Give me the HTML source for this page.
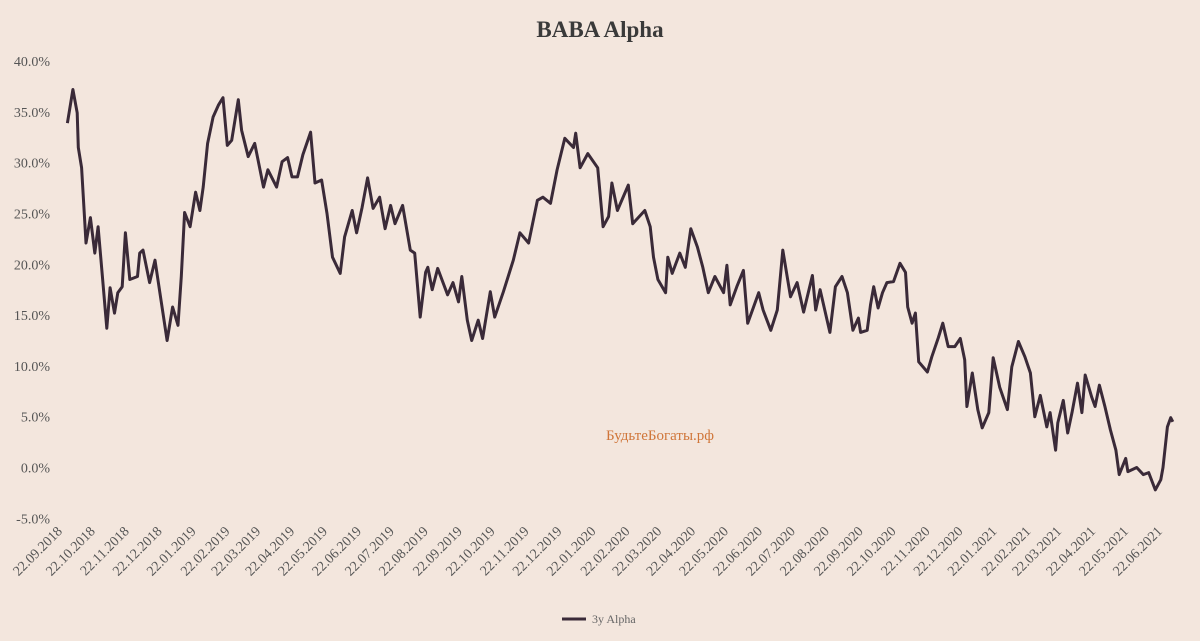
<!DOCTYPE html>
<html><head><meta charset="utf-8">
<style>
html,body{margin:0;padding:0;background:#f3e6dd;}
svg{display:block;font-family:"Liberation Serif",serif;}
</style></head>
<body>
<svg id="chart" width="1200" height="641" viewBox="0 0 1200 641">
<rect width="1200" height="641" fill="#f3e6dd"/>
<text x="600" y="37" text-anchor="middle" font-size="23" font-weight="bold" fill="#3a3a3a">BABA Alpha</text>
<text x="660" y="440" text-anchor="middle" font-size="15" fill="#d0763a">БудьтеБогаты.рф</text>
<g id="yaxis"></g>
<g id="xaxis"></g>
<g id="series"></g>
<g>
<line x1="562" y1="619" x2="586" y2="619" stroke="#3a2a38" stroke-width="3"/>
<text x="592" y="623" font-size="12" fill="#666">3y Alpha</text>
</g>
</svg>
<script>
const yTicks = [-5,0,5,10,15,20,25,30,35,40];
const xTickLabels = ["22.09.2018","22.10.2018","22.11.2018","22.12.2018","22.01.2019","22.02.2019","22.03.2019","22.04.2019","22.05.2019","22.06.2019","22.07.2019","22.08.2019","22.09.2019","22.10.2019","22.11.2019","22.12.2019","22.01.2020","22.02.2020","22.03.2020","22.04.2020","22.05.2020","22.06.2020","22.07.2020","22.08.2020","22.09.2020","22.10.2020","22.11.2020","22.12.2020","22.01.2021","22.02.2021","22.03.2021","22.04.2021","22.05.2021","22.06.2021"];
// days since 22.09.2018
const days = [4,9,13,14,17,21,25,29,32,36,40,43,47,50,54,57,61,68,70,73,79,84,89,95,100,105,108,111,116,121,125,128,132,137,142,146,150,154,160,163,169,175,183,187,195,200,205,209,214,219,226,230,236,241,246,253,257,264,268,273,278,283,289,294,299,303,
310,317,321,326,331,333,337,342,351,356,361,364,369,373,379,383,390,394,402,411,417,425,433,438,445,451,458,466,468,472,479,488,493,498,501,506,516,520,531,536,539,543,550,552,556,563,568,573,579,584,589,595,603,606,609,615,621,625,635,639,646,652,657,664,670,
676,684,687,691,700,705,711,716,721,726,728,734,737,740,744,748,752,758,764,769,771,775,778,781,789,793,799,803,808,814,819,823,825,830,835,839,845,849,855,862,866,872,878,883,887,892,898,901,906,908,913,917,921,926,930,933,939,942,946,951,956,961,964,970,972,980,986,991,997,1002,1004,1008,1011,1013];
const alpha3y = [33.9,37.2,34.9,31.5,29.5,22.1,24.6,21.1,23.7,18.8,13.7,17.7,15.2,17.2,17.8,23.1,18.5,18.8,21.1,21.4,18.2,20.4,16.8,12.5,15.8,14.0,18.8,25.1,23.7,27.1,25.3,27.6,31.9,34.5,35.7,36.4,31.7,32.2,36.2,33.2,30.6,31.9,27.6,29.3,27.6,30.1,30.5,28.6,28.6,30.8,33.0,28.0,28.3,25.0,20.7,19.1,22.7,25.3,23.1,25.6,28.5,25.5,26.6,23.5,25.8,24.0,
25.8,21.4,21.1,14.8,19.2,19.7,17.5,19.6,17.0,18.2,16.3,18.8,14.5,12.5,14.5,12.7,17.3,14.8,17.3,20.4,23.1,22.1,26.3,26.6,26.0,29.3,32.4,31.5,32.9,29.5,30.9,29.5,23.7,24.7,28.0,25.3,27.8,24.0,25.3,23.7,20.7,18.5,17.2,20.7,19.1,21.1,19.7,23.5,21.7,19.7,17.2,18.8,17.2,19.9,16.0,17.8,19.4,14.2,17.2,15.5,13.5,15.5,21.4,16.8,18.2,
15.3,18.9,15.5,17.5,13.3,17.8,18.8,17.2,13.5,14.7,13.3,13.5,16.0,17.8,15.7,17.2,18.2,18.3,20.1,19.2,15.8,14.2,15.2,10.4,9.4,10.9,12.8,14.2,11.9,11.9,12.7,10.6,6.0,9.3,5.7,3.9,5.4,10.8,7.9,5.7,9.9,12.4,10.9,9.3,5.0,7.1,4.0,5.4,1.7,4.4,6.6,3.4,5.4,8.3,5.4,9.1,6.9,6.0,8.1,6.0,3.7,1.7,-0.7,0.9,-0.4,0.0,-0.7,-0.5,-2.2,-1.2,0.0,4.0,4.9,4.5];

const NS="http://www.w3.org/2000/svg";
const xScale = d => 63 + d*1.0956;
const yScale = v => 467.5 - v*10.16;
const start = Date.UTC(2018,8,22);
function labelDay(s){const p=s.split('.');return Math.round((Date.UTC(+p[2],+p[1]-1,+p[0])-start)/86400000);}

const ya=document.getElementById('yaxis');
yTicks.forEach(t=>{
  const tx=document.createElementNS(NS,'text');
  tx.setAttribute('x',50);tx.setAttribute('y',yScale(t)+5);
  tx.setAttribute('text-anchor','end');tx.setAttribute('font-size','14');tx.setAttribute('fill','#555');
  tx.textContent=t.toFixed(1)+'%';
  
  
  ya.appendChild(tx);
});
const xa=document.getElementById('xaxis');
xTickLabels.forEach(s=>{
  const x=xScale(labelDay(s)), y=532;
  const tx=document.createElementNS(NS,'text');
  tx.setAttribute('x',x);tx.setAttribute('y',y);
  tx.setAttribute('text-anchor','end');tx.setAttribute('font-size','14');tx.setAttribute('fill','#555');
  tx.setAttribute('transform','rotate(-45 '+x+' '+y+')');
  tx.textContent=s;
  
  
  xa.appendChild(tx);
});
const pts=days.map((d,i)=>xScale(d).toFixed(1)+','+yScale(alpha3y[i]).toFixed(1)).join(' ');
const pl=document.createElementNS(NS,'polyline');
pl.setAttribute('points',pts);pl.setAttribute('fill','none');
pl.setAttribute('stroke','#3a2a38');pl.setAttribute('stroke-width','3');pl.setAttribute('stroke-linejoin','round');


document.getElementById('series').appendChild(pl);
</script>
</body></html>
